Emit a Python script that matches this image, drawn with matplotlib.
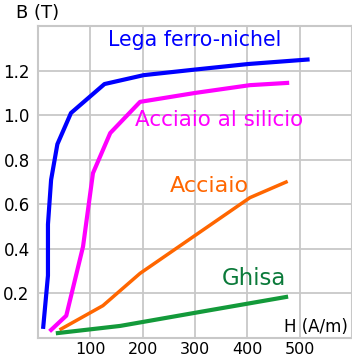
import matplotlib
matplotlib.use("Agg")
import matplotlib.pyplot as plt

# Curve di magnetizzazione B(H)
h_nichel = [10, 19, 19, 25, 37, 63, 127, 202, 300, 402, 515]
b_nichel = [0.05, 0.28, 0.51, 0.71, 0.87, 1.01, 1.14, 1.18, 1.205, 1.23, 1.25]

h_silicio = [25, 54, 86, 105, 138, 195, 300, 405, 476]
b_silicio = [0.036, 0.10, 0.41, 0.74, 0.92, 1.06, 1.10, 1.135, 1.145]

h_acciaio = [44, 124, 195, 405, 474]
b_acciaio = [0.04, 0.145, 0.29, 0.63, 0.70]

h_ghisa = [38, 157, 310, 474]
b_ghisa = [0.022, 0.054, 0.117, 0.184]

x_ticks = [100, 200, 300, 400, 500]
y_ticks = [0.2, 0.4, 0.6, 0.8, 1.0, 1.2]

fig = plt.figure(figsize=(3.52, 3.63), dpi=100)
ax = fig.add_axes([0.108, 0.069, 0.892, 0.859])

ax.plot(h_nichel, b_nichel, color="#0000ff", lw=3)
ax.plot(h_silicio, b_silicio, color="#ff00ff", lw=3)
ax.plot(h_acciaio, b_acciaio, color="#ff6600", lw=2.5)
ax.plot(h_ghisa, b_ghisa, color="#139a3a", lw=3)

ax.set_xlim(0, 600)
ax.set_ylim(0, 1.4)
ax.set_xticks([0, 100, 200, 300, 400, 500, 600])
ax.set_xticklabels([""] + [str(v) for v in x_ticks] + [""])
ax.set_yticks([0, 0.2, 0.4, 0.6, 0.8, 1.0, 1.2, 1.4])
ax.set_yticklabels([""] + [f"{v:.1f}" for v in y_ticks] + [""])
ax.tick_params(axis="y", length=0, labelsize=12, pad=6)
ax.tick_params(axis="x", length=0, labelsize=11.5, pad=3)
ax.grid(True, color="#c8c8c8", lw=1.3)
for s in ax.spines.values():
    s.set_color("#c8c8c8")
    s.set_linewidth(1.5)

ax.text(134, 1.336, "Lega ferro-nichel", color="#0000ff", fontsize=14.8,
        ha="left", va="center")
ax.text(185, 0.978, "Acciaio al silicio", color="#ff00ff", fontsize=15.5,
        ha="left", va="center")
ax.text(252, 0.68, "Acciaio", color="#ff6600", fontsize=16,
        ha="left", va="center")
ax.text(352, 0.269, "Ghisa", color="#0b7a3a", fontsize=16.5,
        ha="left", va="center")
ax.text(593, 0.049, "H (A/m)", color="black", fontsize=12,
        ha="right", va="center")
fig.text(0.045, 0.965, "B (T)", fontsize=13, ha="left", va="center")

fig.savefig("out.png", dpi=100)
